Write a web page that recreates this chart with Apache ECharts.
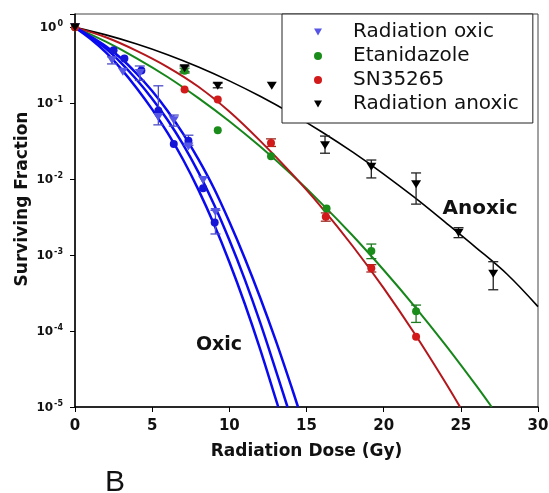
<!DOCTYPE html>
<html><head><meta charset="utf-8">
<script src="https://cdn.jsdelivr.net/npm/echarts@6/dist/echarts.min.js"></script>
<style>html,body{margin:0;padding:0;background:#fff}#c{width:549px;height:493px}</style>
</head><body><div id="c"></div>
<script>
// ---- data (dose in Gy, surviving fraction) ----
const xTicks = [0, 5, 10, 15, 20, 25, 30];
const yTicks = [1e-5, 1e-4, 1e-3, 1e-2, 1e-1, 1];

const oxicPts = [[0,1],[2.4,0.37],[3.1,0.26],[4.2,0.25],[5.4,0.066],[6.4,0.060],[7.35,0.027],[8.3,0.0098],[9.1,0.0037]];
const oxicCirclePts = [[2.5,0.50],[3.2,0.39],[4.3,0.27],[5.4,0.08],[6.4,0.029],[7.35,0.032],[8.3,0.0076],[9.05,0.0027]];
const etanPts = [[0,1],[7.1,0.268],[9.25,0.0443],[12.7,0.0201],[16.3,0.0041],[19.2,0.00113],[22.1,0.000183]];
const snPts = [[0,1],[7.1,0.152],[9.25,0.112],[12.7,0.030],[16.25,0.0032],[19.2,0.00067],[22.1,0.000084]];
const anoxPts = [[0,1],[7.1,0.29],[9.25,0.17],[12.75,0.17],[16.2,0.028],[19.2,0.0146],[22.1,0.0086],[24.85,0.00197],[27.1,0.00057]];

const oxicErr = [[2.4,0.33,0.41],[4.2,0.20,0.31],[5.4,0.052,0.17],[6.4,0.05,0.07],[7.35,0.028,0.038],[9.1,0.0019,0.0039]];
const etanErr = [[7.1,0.25,0.29],[19.2,0.0009,0.0014],[22.1,0.00013,0.00022]];
const snErr = [[12.7,0.027,0.034],[16.25,0.0028,0.0036],[19.2,0.0006,0.00075]];
const anoxErr = [[7.1,0.26,0.31],[9.25,0.16,0.185],[16.2,0.022,0.037],[19.2,0.0104,0.0179],[22.1,0.0047,0.0121],[24.85,0.0017,0.0023],[27.1,0.00035,0.00082]];

const oxicCurveA = [[0,1],[1,0.708],[2,0.468],[3,0.282],[4,0.158],[5,0.0832],[6,0.0407],[7,0.0182],[8,0.00724],[9,0.00257],[10,0.000813],[11,0.000229],[12,0.0000575],[13,0.0000129],[13.17,0.00001]];
const oxicCurveB = [[0,1],[1,0.741],[2,0.525],[3,0.339],[4,0.204],[5,0.115],[6,0.0603],[7,0.0288],[8,0.0123],[9,0.00468],[10,0.00158],[11,0.000479],[12,0.000129],[13,0.0000309],[13.77,0.00001]];
const oxicCurveC = [[0,1],[1,0.759],[2,0.562],[3,0.389],[4,0.245],[5,0.145],[6,0.0794],[7,0.0398],[8,0.0182],[9,0.00759],[10,0.00275],[11,0.000912],[12,0.000275],[13,0.0000759],[14,0.0000191],[14.45,0.00001]];
const etanCurve = [[0,1],[2,0.647],[4,0.391],[6,0.222],[8,0.117],[10,0.0581],[12,0.0269],[14,0.01168],[16,0.00474],[18,0.0018],[20,0.000637],[22,0.000212],[24,0.0000658],[26,0.0000191],[27,0.00001]];
const snCurve = [[0,1],[2,0.74],[4,0.49],[6,0.30],[8,0.165],[10,0.078],[12,0.032],[14,0.0121],[16,0.0042],[18,0.00131],[20,0.000368],[22,0.0000927],[24,0.000021],[24.95,0.00001]];
const anoxCurve = [[0,1],[2,0.796],[4,0.604],[6,0.437],[8,0.301],[10,0.1975],[12,0.1236],[14,0.0737],[16,0.0419],[18,0.0227],[20,0.0117],[22,0.00575],[24,0.0027],[26,0.00125],[28,0.00056],[30,0.00021]];

const legendNames = ['Radiation oxic', 'Etanidazole', 'SN35265', 'Radiation anoxic'];

// ---- styling ----
const FONT = 'DejaVu Sans';
const downTri = 'path://M0,0L10,0L5,8.66Z';

function errRender(color, cap) {
  return function (params, api) {
    const x = api.value(0), lo = api.value(1), hi = api.value(2);
    const a = api.coord([x, lo]), b = api.coord([x, hi]);
    const st = { stroke: color, lineWidth: 1.3 };
    return { type: 'group', children: [
      { type: 'line', shape: { x1: a[0], y1: a[1], x2: b[0], y2: b[1] }, style: st },
      { type: 'line', shape: { x1: a[0] - cap, y1: a[1], x2: a[0] + cap, y2: a[1] }, style: st },
      { type: 'line', shape: { x1: b[0] - cap, y1: b[1], x2: b[0] + cap, y2: b[1] }, style: st }
    ]};
  };
}
function errSeries(data, color) {
  return { type: 'custom', name: 'err', data: data, renderItem: errRender(color, 5),
           encode: { x: 0, y: [1, 2] }, z: 3, silent: true };
}
function curve(data, color, w) {
  return { type: 'line', data: data, smooth: 0.35, showSymbol: false, symbol: 'none',
           lineStyle: { color: color, width: w }, z: 2, silent: true };
}
function pts(name, data, color, symbol, size) {
  return { type: 'scatter', name: name, data: data, symbol: symbol, symbolSize: size,
           itemStyle: { color: color, opacity: 1 }, z: 4 };
}

const chart = echarts.init(document.getElementById('c'), null, { renderer: 'canvas' });
chart.setOption({
  animation: false,
  backgroundColor: '#fff',
  grid: { left: 75, right: 11, top: 14, bottom: 86, show: true, borderColor: '#444', borderWidth: 1,
          containLabel: false, outerBoundsMode: 'none' },
  xAxis: {
    type: 'value', min: xTicks[0], max: xTicks[xTicks.length - 1], interval: 5,
    name: 'Radiation Dose (Gy)', nameLocation: 'middle', nameGap: 36,
    nameTextStyle: { fontFamily: FONT, fontWeight: 'bold', fontSize: 17, color: '#111' },
    axisLine: { lineStyle: { color: '#000', width: 1.5 } },
    axisTick: { inside: false, length: 5, lineStyle: { color: '#000' } },
    axisLabel: { fontFamily: FONT, fontWeight: 'bold', fontSize: 15, color: '#111', margin: 12 },
    splitLine: { show: false }
  },
  yAxis: {
    type: 'log', logBase: 10, min: yTicks[0], max: 1.5,
    axisLine: { show: true, lineStyle: { color: '#000', width: 1.5 } },
    axisTick: { show: true, inside: false, length: 5, lineStyle: { color: '#000' } },
    axisLabel: {
      margin: 12, color: '#111',
      formatter: function (v) {
        const e = Math.round(Math.log10(v));
        if (Math.abs(Math.log10(v) - e) > 1e-6) return '';
        return '{b|10}{s|' + (e < 0 ? '-' + (-e) : e) + '}';
      },
      rich: {
        b: { fontFamily: FONT, fontWeight: 'bold', fontSize: 12, color: '#111', lineHeight: 14, verticalAlign: 'bottom' },
        s: { fontFamily: FONT, fontWeight: 'bold', fontSize: 8, color: '#111', lineHeight: 14, verticalAlign: 'top', padding: [0, 0, 6, 1] }
      }
    },
    splitLine: { show: false }
  },
  legend: {
    data: legendNames, orient: 'vertical', left: 282, top: 14,
    padding: [8, 14, 9, 32], itemGap: 4, itemWidth: 8, itemHeight: 8,
    backgroundColor: '#fff', borderColor: '#222', borderWidth: 1,
    textStyle: { fontFamily: FONT, fontSize: 20, color: '#111', padding: [0, 0, 0, 26] },
    selectedMode: false
  },
  graphic: [
    { type: 'text', x: 23, y: 199, rotation: Math.PI / 2,
      style: { text: 'Surviving Fraction', font: 'bold 17px "DejaVu Sans"', fill: '#111', textAlign: 'center', textVerticalAlign: 'middle' } },
    { type: 'text', x: 219, y: 345,
      style: { text: 'Oxic', font: 'bold 19px "DejaVu Sans"', fill: '#111', textAlign: 'center', textVerticalAlign: 'middle' } },
    { type: 'text', x: 480, y: 209,
      style: { text: 'Anoxic', font: 'bold 20px "DejaVu Sans"', fill: '#111', textAlign: 'center', textVerticalAlign: 'middle' } },
    { type: 'text', x: 115, y: 483,
      style: { text: 'B', font: '30px "Liberation Sans"', fill: '#111', textAlign: 'center', textVerticalAlign: 'middle' } }
  ],
  series: [
    curve(anoxCurve, '#000000', 1.6),
    curve(etanCurve, '#17861a', 2),
    curve(snCurve, '#b3161b', 2),
    curve(oxicCurveA, '#0a0af0', 2.5),
    curve(oxicCurveB, '#0a0af0', 2.5),
    curve(oxicCurveC, '#0a0af0', 2.5),
    errSeries(anoxErr, '#222222'),
    errSeries(etanErr, '#1e7a1e'),
    errSeries(snErr, '#9a2a22'),
    errSeries(oxicErr, '#4b4bc8'),
    pts('oxic circles', oxicCirclePts, '#1515d8', 'circle', 8),
    pts('Radiation oxic', oxicPts, '#5656e6', downTri, [10, 8]),
    pts('Etanidazole', etanPts, '#1a8c1a', 'circle', 8),
    pts('SN35265', snPts, '#d21a1a', 'circle', 8),
    pts('Radiation anoxic', anoxPts, '#000000', downTri, [10, 8])
  ]
});
</script></body></html>
